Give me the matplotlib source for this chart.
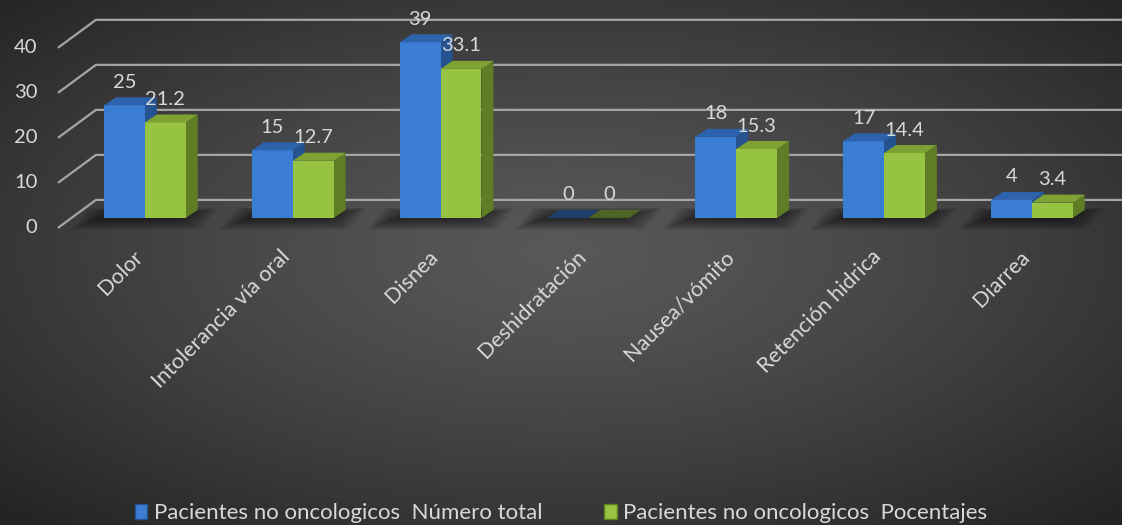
import numpy as np
import matplotlib.pyplot as plt
from matplotlib.patches import Polygon, Patch

categorias = ['Dolor', 'Intolerancia vía oral', 'Disnea', 'Deshidratación',
              'Nausea/vómito', 'Retención hidrica', 'Diarrea']
numero_total = [25, 15, 39, 0, 18, 17, 4]
porcentajes = [21.2, 12.7, 33.1, 0, 15.3, 14.4, 3.4]
ticks_y = [0, 10, 20, 30, 40]
series = ['Pacientes no oncologicos  Número total',
          'Pacientes no oncologicos  Pocentajes']

plt.rcParams['font.family'] = ['Lato', 'DejaVu Sans']
texto = '#d9d9d9'

# colores: frente, tapa, lado, tapa cuando la barra vale 0
azul = ('#3b7dd4', '#2d62ad', '#24538f', '#1f3f6e')
verde = ('#97c343', '#7ea332', '#5f7d25', '#4e6422')

# geometria del grafico (unidades de datos)
ancho = 0.277
prof_x, prof_y = 0.081, 1.78
pared_x, pared_y = 0.162, 4.0
suelo_x, suelo_y = -0.257, -6.22
x_min, x_max = -0.98, 6.61
y_min, y_max = -68.2, 48.4

fig = plt.figure(figsize=(11.22, 5.25), dpi=100)

# fondo con degradado radial
bg = fig.add_axes([0, 0, 1, 1])
yy, xx = np.mgrid[0:1:525j, 0:1:1122j]
r = np.sqrt(((xx - 0.5) / 0.72) ** 2 + ((yy - 0.48) / 0.72) ** 2)
r = np.clip(r / 0.98, 0, 1) ** 1.3
gris = (88 - 52 * r) / 255
bg.imshow(np.dstack([gris, gris, gris]), aspect='auto', extent=(0, 1, 0, 1))
bg.axis('off')

ax = fig.add_axes([0, 0, 1, 1])
ax.patch.set_alpha(0)
ax.set_xlim(x_min, x_max)
ax.set_ylim(y_min, y_max)
ax.axis('off')

# lineas de division en la pared del fondo y su diagonal hacia el frente
x_pared = -0.5 + pared_x + 0.007
for v in ticks_y:
    yb = v + pared_y
    ax.plot([x_pared + suelo_x, x_pared, x_max], [yb + suelo_y, yb, yb],
            color='#a6a6a6', lw=1.6, solid_capstyle='butt', zorder=1)
    ax.text(x_pared + suelo_x - 0.14, yb + suelo_y, str(v), ha='right',
            va='center', color=texto, fontsize=14.5)


def sombra(i):
    x0, x1 = i - ancho - 0.22, i + ancho + 0.1
    for k in range(7):
        e = 0.025 * k
        ey = 0.35 * k
        pts = [(x0 + e, -2.6 + ey), (x1 - e, -2.6 + ey),
               (x1 - e + 0.12, 2.2 - ey * 0.5), (x0 + e + 0.12, 2.2 - ey * 0.5)]
        ax.add_patch(Polygon(pts, closed=True, facecolor='black',
                             edgecolor='none', alpha=0.085, zorder=2))


def barra(x0, v, col, z):
    frente, tapa, lado, plano = col
    x1 = x0 + ancho
    if v > 0:
        ax.add_patch(Polygon([(x1, 0), (x1 + prof_x, prof_y), (x1 + prof_x, v + prof_y), (x1, v)],
                             closed=True, facecolor=lado, edgecolor='none', zorder=z))
        ax.add_patch(Polygon([(x0, 0), (x1, 0), (x1, v), (x0, v)],
                             closed=True, facecolor=frente, edgecolor='none', zorder=z))
    ax.add_patch(Polygon([(x0, v), (x1, v), (x1 + prof_x, v + prof_y), (x0 + prof_x, v + prof_y)],
                         closed=True, facecolor=tapa if v > 0 else plano,
                         edgecolor='none', zorder=z))


for i, cat in enumerate(categorias):
    sombra(i)
    for x0, v, col, z in [(i - ancho, numero_total[i], azul, 3),
                          (i, porcentajes[i], verde, 4)]:
        barra(x0, v, col, z)
        ax.text(x0 + ancho / 2, v + 5.1, f'{v:g}', ha='center', va='center',
                color=texto, fontsize=14.5, zorder=6)
    ax.text(i - 0.085, -6.4, cat, rotation=45, rotation_mode='anchor',
            ha='right', va='top', color=texto, fontsize=15.5)

manejadores = [Patch(facecolor=azul[0], edgecolor=azul[2]),
               Patch(facecolor=verde[0], edgecolor=verde[2])]
fig.legend(manejadores, series, loc='center', bbox_to_anchor=(0.5, 1 - 513 / 525),
           ncol=2, frameon=False, fontsize=16, labelcolor=texto,
           handlelength=0.55, handleheight=0.65, handletextpad=0.3,
           columnspacing=2.8)

fig.savefig('out.png', dpi=100)
